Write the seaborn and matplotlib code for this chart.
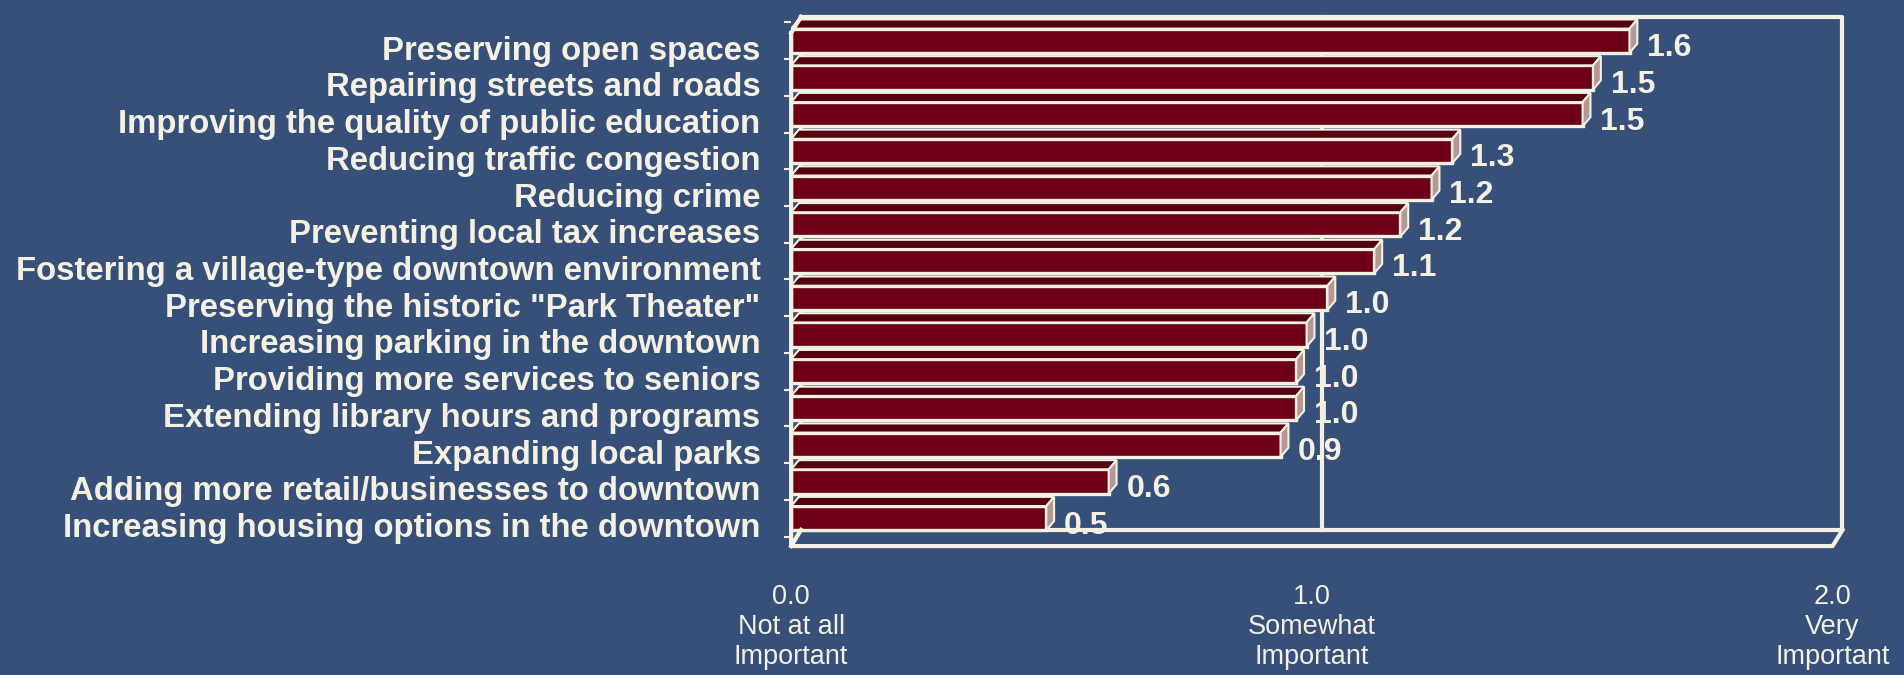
"""Importance ratings of community issues - horizontal 3D-style bar chart."""

import matplotlib

matplotlib.use("Agg")
import matplotlib.pyplot as plt
import matplotlib.transforms as mtransforms
import numpy as np
import pandas as pd
import seaborn as sns
from matplotlib.patches import Polygon

categories = [
    "Preserving open spaces",
    "Repairing streets and roads",
    "Improving the quality of public education",
    "Reducing traffic congestion",
    "Reducing crime",
    "Preventing local tax increases",
    "Fostering a village-type downtown environment",
    'Preserving the historic "Park Theater"',
    "Increasing parking in the downtown",
    "Providing more services to seniors",
    "Extending library hours and programs",
    "Expanding local parks",
    "Adding more retail/businesses to downtown",
    "Increasing housing options in the downtown",
]
scores = [1.61, 1.54, 1.52, 1.27, 1.23, 1.17, 1.12, 1.03, 0.99, 0.97, 0.97, 0.94, 0.61, 0.49]
tick_values = [0.0, 1.0, 2.0]
tick_labels = ["0.0\nNot at all\nImportant", "1.0\nSomewhat\nImportant", "2.0\nVery\nImportant"]

BG = "#36507a"
BAR = "#6d0017"
BAR_TOP = "#55000f"
BAR_SIDE = "#b39898"
CREAM = "#f4f1e2"

sns.set_theme(style="white")
plt.rcParams["font.family"] = ["Liberation Sans", "DejaVu Sans"]

df = pd.DataFrame({"issue": categories, "score": scores})

fig = plt.figure(figsize=(19.04, 6.75), dpi=100, facecolor=BG)
ax = fig.add_axes([0.4155, 0.191, 0.547, 0.784])
ax.set_facecolor("none")

sns.barplot(data=df, x="score", y="issue", orient="h", color=BAR, saturation=1,
            width=0.66, edgecolor=CREAM, linewidth=2.4, ax=ax, zorder=3)

# 3D-ish wall / floor geometry (in data units)
x_max = tick_values[-1]
y_top, y_bot = -0.65, len(categories) - 0.24
dx, dy = 0.019, 0.44
bx, bt = 0.015, 0.25

# bar top and side faces built from the drawn bars
for p in list(ax.patches):
    x0, y0, w, h = p.get_x(), p.get_y(), p.get_width(), p.get_height()
    top = [(x0, y0), (x0 + w, y0), (x0 + w + bx, y0 - bt), (x0 + bx, y0 - bt)]
    side = [(x0 + w, y0), (x0 + w + bx, y0 - bt), (x0 + w + bx, y0 + h - bt), (x0 + w, y0 + h)]
    ax.add_patch(Polygon(top, closed=True, facecolor=BAR_TOP, edgecolor=CREAM, lw=1.5, zorder=3))
    ax.add_patch(Polygon(side, closed=True, facecolor=BAR_SIDE, edgecolor=CREAM, lw=1.5, zorder=3))

line_kw = dict(color=CREAM, lw=3, clip_on=False, solid_capstyle="projecting")
# back wall
ax.plot([dx, x_max + dx, x_max + dx, dx, dx],
        [y_top, y_top, y_bot - dy, y_bot - dy, y_top], zorder=1, **line_kw)
ax.plot([1 + dx, 1 + dx], [y_top, y_bot - dy], zorder=1, **line_kw)
# front edges and floor
ax.plot([0, 0, x_max, x_max + dx], [y_top + dy, y_bot, y_bot, y_bot - dy], zorder=5, **line_kw)
ax.plot([0, dx], [y_top + dy, y_top], zorder=5, **line_kw)
ax.plot([0, dx], [y_bot, y_bot - dy], zorder=5, **line_kw)

# value labels
for i, v in enumerate(scores):
    ax.annotate(f"{v:.1f}", xy=(v + bx, i + 0.2), xytext=(7, 0), textcoords="offset points",
                ha="left", va="center", fontsize=23, fontweight="bold", color=CREAM, zorder=6)

ax.set_xlim(0, x_max)
ax.set_ylim(y_bot, y_top)
ax.set_xlabel("")
ax.set_ylabel("")
sns.despine(ax=ax, left=True, bottom=True)

ax.set_xticks(tick_values, tick_labels)
ax.tick_params(axis="x", colors=CREAM, length=6, width=2, pad=21, labelsize=19.5)
ax.set_yticks(np.arange(len(categories)), categories)
ax.set_yticks(np.arange(len(categories) + 1) - 0.5, minor=True)
ax.tick_params(axis="y", which="major", length=0, pad=22, labelsize=23.7, labelcolor=CREAM)
ax.tick_params(axis="y", which="minor", length=5, width=1.5, color=CREAM, left=True)
shift = mtransforms.ScaledTranslation(0, -5 / 72, fig.dpi_scale_trans)
for lbl in ax.get_yticklabels():
    lbl.set_fontweight("bold")
    lbl.set_transform(lbl.get_transform() + shift)

fig.savefig("out.png", dpi=100, facecolor=BG)
plt.close(fig)
